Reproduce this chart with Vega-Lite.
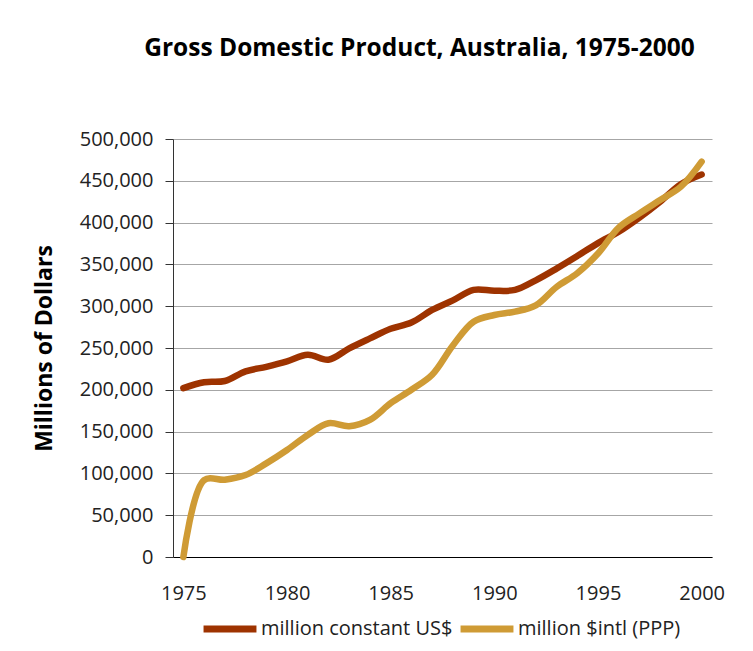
{
  "$schema": "https://vega.github.io/schema/vega-lite/v6.json",
  "width": 539,
  "height": 418,
  "autosize": {"type": "none"},
  "padding": {"left": 173, "top": 139, "right": 41, "bottom": 94},
  "background": "white",
  "title": {"text": "Gross Domestic Product, Australia, 1975-2000", "font": "Open Sans", "fontSize": 24.5, "fontWeight": "bold", "color": "#000000", "anchor": "middle", "dx": -23, "offset": 68},
  "data": {"values": [
    {"year": 1975, "series": "million constant US$", "gdp": 202000},
    {"year": 1976, "series": "million constant US$", "gdp": 209000},
    {"year": 1977, "series": "million constant US$", "gdp": 210500},
    {"year": 1978, "series": "million constant US$", "gdp": 222000},
    {"year": 1979, "series": "million constant US$", "gdp": 227500},
    {"year": 1980, "series": "million constant US$", "gdp": 234000},
    {"year": 1981, "series": "million constant US$", "gdp": 242000},
    {"year": 1982, "series": "million constant US$", "gdp": 236000},
    {"year": 1983, "series": "million constant US$", "gdp": 249500},
    {"year": 1984, "series": "million constant US$", "gdp": 261500},
    {"year": 1985, "series": "million constant US$", "gdp": 273000},
    {"year": 1986, "series": "million constant US$", "gdp": 280500},
    {"year": 1987, "series": "million constant US$", "gdp": 295500},
    {"year": 1988, "series": "million constant US$", "gdp": 307000},
    {"year": 1989, "series": "million constant US$", "gdp": 319500},
    {"year": 1990, "series": "million constant US$", "gdp": 318500},
    {"year": 1991, "series": "million constant US$", "gdp": 319500},
    {"year": 1992, "series": "million constant US$", "gdp": 331000},
    {"year": 1993, "series": "million constant US$", "gdp": 345000},
    {"year": 1994, "series": "million constant US$", "gdp": 360000},
    {"year": 1995, "series": "million constant US$", "gdp": 375500},
    {"year": 1996, "series": "million constant US$", "gdp": 389000},
    {"year": 1997, "series": "million constant US$", "gdp": 406000},
    {"year": 1998, "series": "million constant US$", "gdp": 425000},
    {"year": 1999, "series": "million constant US$", "gdp": 446000},
    {"year": 2000, "series": "million constant US$", "gdp": 457500},
    {"year": 1975, "series": "million $intl (PPP)", "gdp": 0},
    {"year": 1976, "series": "million $intl (PPP)", "gdp": 92000},
    {"year": 1977, "series": "million $intl (PPP)", "gdp": 92500},
    {"year": 1978, "series": "million $intl (PPP)", "gdp": 98000},
    {"year": 1979, "series": "million $intl (PPP)", "gdp": 112000},
    {"year": 1980, "series": "million $intl (PPP)", "gdp": 128000},
    {"year": 1981, "series": "million $intl (PPP)", "gdp": 146000},
    {"year": 1982, "series": "million $intl (PPP)", "gdp": 160000},
    {"year": 1983, "series": "million $intl (PPP)", "gdp": 156500},
    {"year": 1984, "series": "million $intl (PPP)", "gdp": 164000},
    {"year": 1985, "series": "million $intl (PPP)", "gdp": 184000},
    {"year": 1986, "series": "million $intl (PPP)", "gdp": 200000},
    {"year": 1987, "series": "million $intl (PPP)", "gdp": 218000},
    {"year": 1988, "series": "million $intl (PPP)", "gdp": 253000},
    {"year": 1989, "series": "million $intl (PPP)", "gdp": 281500},
    {"year": 1990, "series": "million $intl (PPP)", "gdp": 289500},
    {"year": 1991, "series": "million $intl (PPP)", "gdp": 293500},
    {"year": 1992, "series": "million $intl (PPP)", "gdp": 301000},
    {"year": 1993, "series": "million $intl (PPP)", "gdp": 323000},
    {"year": 1994, "series": "million $intl (PPP)", "gdp": 339500},
    {"year": 1995, "series": "million $intl (PPP)", "gdp": 363000},
    {"year": 1996, "series": "million $intl (PPP)", "gdp": 394000},
    {"year": 1997, "series": "million $intl (PPP)", "gdp": 411000},
    {"year": 1998, "series": "million $intl (PPP)", "gdp": 427000},
    {"year": 1999, "series": "million $intl (PPP)", "gdp": 443000},
    {"year": 2000, "series": "million $intl (PPP)", "gdp": 473000}
  ]},
  "mark": {"type": "line", "interpolate": "catmull-rom", "strokeWidth": 6.5, "strokeCap": "round", "strokeJoin": "round"},
  "encoding": {
    "x": {
      "field": "year", "type": "quantitative",
      "scale": {"domain": [1974.5, 2000.5], "nice": false, "zero": false},
      "axis": {"title": null, "grid": false, "ticks": false, "domainColor": "#000000", "domainWidth": 1.2,
               "values": [1975, 1980, 1985, 1990, 1995, 2000], "format": "d",
               "labelFont": "Open Sans", "labelFontSize": 20, "labelColor": "#222222", "labelPadding": 26, "labelFlush": false}
    },
    "y": {
      "field": "gdp", "type": "quantitative",
      "scale": {"domain": [0, 500000], "nice": false},
      "axis": {"title": "Millions of Dollars", "titleFont": "Open Sans", "titleFontSize": 23, "titleFontWeight": "bold", "titleColor": "#000000", "titlePadding": 23,
               "values": [0, 50000, 100000, 150000, 200000, 250000, 300000, 350000, 400000, 450000, 500000], "format": ",d",
               "labelFont": "Open Sans", "labelFontSize": 20, "labelColor": "#222222", "labelPadding": 12,
               "tickSize": 8, "tickColor": "#333333", "domainColor": "#333333", "gridColor": "#a6a6a6", "gridWidth": 1}
    },
    "color": {
      "field": "series", "type": "nominal",
      "scale": {"domain": ["million constant US$", "million $intl (PPP)"], "range": ["#9e3300", "#cf9b35"]},
      "legend": {"title": null, "orient": "none", "legendX": 27, "legendY": 460, "direction": "horizontal",
                 "symbolType": "stroke", "symbolStrokeWidth": 7, "symbolSize": 2800, "labelLimit": 0,
                 "labelFont": "Open Sans", "labelFontSize": 20, "labelColor": "#222222", "labelOffset": 1, "columnPadding": -7}
    }
  },
  "config": {"view": {"stroke": null}}
}
